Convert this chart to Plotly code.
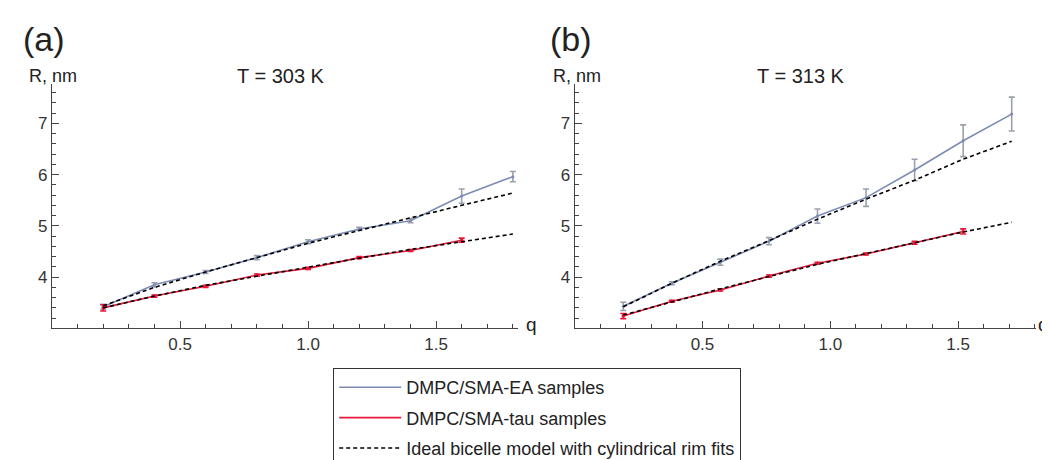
import plotly.graph_objects as go

# ---------------- data ----------------
q_a = [0.2, 0.4, 0.6, 0.8, 1.0, 1.2, 1.4, 1.6, 1.8]
ea_a = [3.42, 3.85, 4.10, 4.38, 4.69, 4.94, 5.10, 5.58, 5.96]
ea_a_err = [0.05, 0.04, 0.03, 0.04, 0.04, 0.03, 0.04, 0.14, 0.10]
q_a_tau = [0.2, 0.4, 0.6, 0.8, 1.0, 1.2, 1.4, 1.6]
tau_a = [3.40, 3.63, 3.82, 4.04, 4.17, 4.38, 4.52, 4.72]
tau_a_err = [0.06, 0.02, 0.02, 0.02, 0.02, 0.02, 0.02, 0.04]
fit_ea_a = [3.44, 3.80, 4.10, 4.38, 4.66, 4.91, 5.16, 5.40, 5.64]
fit_tau_a = [3.40, 3.63, 3.84, 4.02, 4.20, 4.37, 4.54, 4.69, 4.84]

q_b = [0.19, 0.38, 0.57, 0.76, 0.95, 1.14, 1.33, 1.52, 1.71]
ea_b = [3.43, 3.88, 4.29, 4.70, 5.19, 5.55, 6.09, 6.66, 7.18]
ea_b_err = [0.08, 0.03, 0.06, 0.07, 0.14, 0.17, 0.21, 0.31, 0.33]
q_b_tau = [0.19, 0.38, 0.57, 0.76, 0.95, 1.14, 1.33, 1.52]
tau_b = [3.24, 3.53, 3.75, 4.02, 4.27, 4.45, 4.67, 4.89]
tau_b_err = [0.05, 0.02, 0.02, 0.02, 0.02, 0.02, 0.03, 0.05]
fit_ea_b = [3.42, 3.88, 4.31, 4.71, 5.13, 5.52, 5.89, 6.30, 6.65]
fit_tau_b = [3.26, 3.52, 3.77, 4.01, 4.25, 4.46, 4.67, 4.88, 5.07]

x_tickvals = [0.5, 1.0, 1.5]
x_ticktext = ["0.5", "1.0", "1.5"]
x_minor = [0.1, 0.2, 0.3, 0.4, 0.6, 0.7, 0.8, 0.9, 1.1, 1.2, 1.3, 1.4, 1.6, 1.7, 1.8]
y_tickvals = [4, 5, 6, 7]
y_ticktext = ["4", "5", "6", "7"]
y_minor = [3.2, 3.4, 3.6, 3.8, 4.2, 4.4, 4.6, 4.8, 5.2, 5.4,
           5.6, 5.8, 6.2, 6.4, 6.6, 6.8, 7.2, 7.4, 7.6]

panel_labels = ["(a)", "(b)"]
titles = ["T = 303 K", "T = 313 K"]
legend_names = ["DMPC/SMA-EA samples", "DMPC/SMA-tau samples",
                "Ideal bicelle model with cylindrical rim fits"]

# ---------------- style ----------------
EA_COL = "#7e8cb4"
EA_ERR = "#9aa0ac"
TAU_COL = "#e8173a"
FONT = "Liberation Sans, Arial, sans-serif"
W, H = 1050, 460

fig = go.Figure()

panels = [
    (q_a, ea_a, ea_a_err, q_a_tau, tau_a, tau_a_err, fit_ea_a, fit_tau_a, "x", "y"),
    (q_b, ea_b, ea_b_err, q_b_tau, tau_b, tau_b_err, fit_ea_b, fit_tau_b, "x2", "y2"),
]

for i, (q, ea, eae, qt, tau, taue, fea, ftau, xa, ya) in enumerate(panels):
    first = i == 0
    fig.add_trace(go.Scatter(
        x=q, y=ea, mode="lines", xaxis=xa, yaxis=ya,
        name=legend_names[0], legendgroup="ea", showlegend=first,
        line=dict(color=EA_COL, width=1.6),
        error_y=dict(type="data", array=eae, color=EA_ERR, thickness=1.6, width=3)))
    fig.add_trace(go.Scatter(
        x=q, y=ea, mode="markers", xaxis=xa, yaxis=ya, showlegend=False,
        hoverinfo="skip", marker=dict(size=3, color=EA_COL)))
    fig.add_trace(go.Scatter(
        x=qt, y=tau, mode="lines", xaxis=xa, yaxis=ya,
        name=legend_names[1], legendgroup="tau", showlegend=first,
        line=dict(color=TAU_COL, width=1.6),
        error_y=dict(type="data", array=taue, color=TAU_COL, thickness=1.6, width=3)))
    fig.add_trace(go.Scatter(
        x=qt, y=tau, mode="markers", xaxis=xa, yaxis=ya, showlegend=False,
        hoverinfo="skip", marker=dict(size=3.5, color=TAU_COL)))

for i, (q, ea, eae, qt, tau, taue, fea, ftau, xa, ya) in enumerate(panels):
    first = i == 0
    fig.add_trace(go.Scatter(
        x=q, y=fea, mode="lines", xaxis=xa, yaxis=ya,
        name=legend_names[2], legendgroup="fit", showlegend=first,
        line=dict(color="black", width=1.6, dash="4px,3px")))
    fig.add_trace(go.Scatter(
        x=q, y=ftau, mode="lines", xaxis=xa, yaxis=ya,
        name=legend_names[2], legendgroup="fit", showlegend=False,
        line=dict(color="black", width=1.6, dash="4px,3px")))

# axes geometry (pixels -> paper)
xa_dom = [44 / W, 510 / W]
xb_dom = [566.7 / W, 1028 / W]
y_dom = [(H - 335.7) / H, (H - 80) / H]

axis_common = dict(
    showline=True, linecolor="#444", linewidth=1.2, showgrid=False, zeroline=False,
    ticks="inside", tickcolor="#444", tickwidth=1,
    tickfont=dict(family=FONT, size=17, color="#333"),
)

xcommon = dict(axis_common, tickmode="array",
               tickvals=x_tickvals, ticktext=x_ticktext, ticklen=7,
               minor=dict(tickmode="array", tickvals=x_minor,
                          ticks="inside", ticklen=4, tickcolor="#444"))
ycommon = dict(axis_common, range=[3.0, 7.76], tickmode="array",
               tickvals=y_tickvals, ticktext=y_ticktext, ticklen=7,
               minor=dict(tickmode="array", tickvals=y_minor,
                          ticks="inside", ticklen=4, tickcolor="#444"))

fig.update_layout(
    xaxis=dict(xcommon, domain=xa_dom, anchor="y", range=[0, 1.82]),
    yaxis=dict(ycommon, domain=y_dom, anchor="x"),
    xaxis2=dict(xcommon, domain=xb_dom, anchor="y2", range=[0, 1.805]),
    yaxis2=dict(ycommon, domain=y_dom, anchor="x2"),
)

def px_ann(text, x, y, size, xanchor="center"):
    fig.add_annotation(text=text, xref="paper", yref="paper",
                       x=x / W, y=1 - y / H, xanchor=xanchor, yanchor="middle",
                       showarrow=False, font=dict(family=FONT, size=size, color="#222"))

px_ann(panel_labels[0], 36, 32, 34)
px_ann(panel_labels[1], 563, 32, 34)
px_ann("R, nm", 19, 71, 18, "left")
px_ann("R, nm", 543, 71, 18, "left")
px_ann(titles[0], 273, 71, 20)
px_ann(titles[1], 793, 71, 20)
px_ann("q", 523, 332, 19)
px_ann("q", 1035, 332, 19)

fig.update_layout(
    width=W, height=H, margin=dict(l=0, r=0, t=0, b=0),
    paper_bgcolor="white", plot_bgcolor="white",
    showlegend=True,
    legend=dict(x=325 / W, y=1 - 377 / H, xanchor="left", yanchor="top",
                bordercolor="#333", borderwidth=1.2, bgcolor="white",
                itemwidth=62, tracegroupgap=4,
                font=dict(family=FONT, size=18, color="#222")),
)

fig.write_html("out.html")
